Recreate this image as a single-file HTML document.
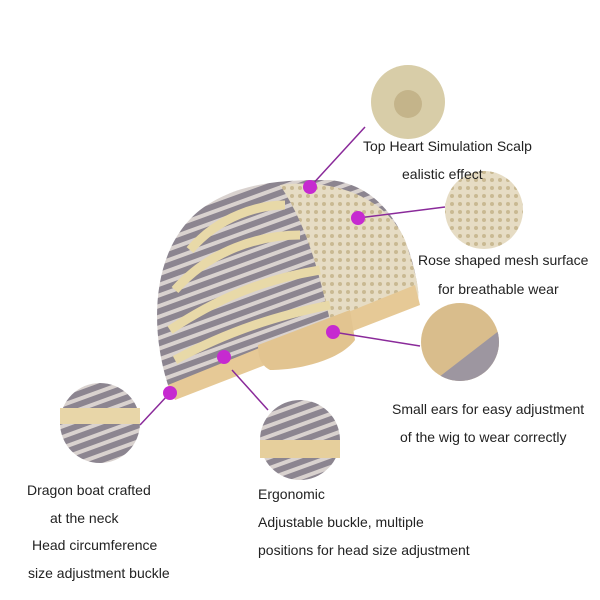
<!DOCTYPE html>
<html><head><style>
body{margin:0;background:#fff;width:600px;height:600px;overflow:hidden;position:relative;font-family:"Liberation Sans",sans-serif}
.t{position:absolute;font-size:14px;color:#222;white-space:nowrap}
</style></head><body>
<svg width="600" height="600" style="position:absolute;left:0;top:0">
<defs>
<pattern id="str" width="10" height="10" patternUnits="userSpaceOnUse" patternTransform="rotate(70)">
<rect width="10" height="10" fill="#8c8590"/><rect width="4" height="10" fill="#d9d2cf"/></pattern>
<pattern id="lace" width="8" height="8" patternUnits="userSpaceOnUse">
<rect width="8" height="8" fill="#e6dcc4"/><circle cx="4" cy="4" r="2" fill="#c9b992"/></pattern>
</defs>
<path d="M168,385 C150,330 150,250 200,210 C240,180 290,180 330,180 C380,185 410,230 418,290 L175,390 Z" fill="url(#str)"/>
<path d="M280,185 C330,178 385,195 405,240 C415,270 420,290 418,300 L330,320 C320,280 310,230 280,185Z" fill="url(#lace)"/>
<path d="M190,250 C220,215 260,205 285,205" stroke="#e8d9a8" stroke-width="9" fill="none"/>
<path d="M175,290 C210,250 260,235 300,235" stroke="#e8d9a8" stroke-width="9" fill="none"/>
<path d="M170,330 C215,300 260,280 320,270" stroke="#e8d9a8" stroke-width="9" fill="none"/>
<path d="M175,360 C230,330 280,315 330,305" stroke="#e8d9a8" stroke-width="9" fill="none"/>
<path d="M168,385 L415,285 L420,305 L175,400 Z" fill="#e6c996"/>
<path d="M258,345 L350,310 L355,340 C340,360 300,370 270,370 C260,365 258,355 258,345Z" fill="#e2c490"/>
<g stroke="#8a2a9a" stroke-width="1.5">
<line x1="310" y1="187" x2="365" y2="127"/>
<line x1="358" y1="218" x2="445" y2="207"/>
<line x1="333" y1="332" x2="420" y2="346"/>
<line x1="232" y1="370" x2="268" y2="410"/>
<line x1="168" y1="395" x2="140" y2="425"/>
</g>
<g fill="#c62ad0">
<circle cx="310" cy="187" r="7"/><circle cx="358" cy="218" r="7"/>
<circle cx="333" cy="332" r="7"/><circle cx="224" cy="357" r="7"/><circle cx="170" cy="393" r="7"/>
</g>
<circle cx="408" cy="102" r="37" fill="#d8cda8"/><circle cx="408" cy="104" r="14" fill="#c4b48a"/>
<circle cx="484" cy="210" r="39" fill="url(#lace)"/>
<clipPath id="c3"><circle cx="460" cy="342" r="39"/></clipPath>
<g clip-path="url(#c3)"><rect x="420" y="300" width="82" height="84" fill="#d9bd8c"/><path d="M430,384 L500,330 L500,384Z" fill="#9d96a0"/></g>
<circle cx="100" cy="423" r="40" fill="url(#str)"/><rect x="60" y="408" width="80" height="16" fill="#e8d6a8"/>
<circle cx="300" cy="440" r="40" fill="url(#str)"/><rect x="260" y="440" width="80" height="18" fill="#e6cf9c"/>
</svg>
<div class="t" style="left:363px;top:138px">Top Heart Simulation Scalp</div>
<div class="t" style="left:402px;top:166px">ealistic effect</div>
<div class="t" style="left:418px;top:252px">Rose shaped mesh surface</div>
<div class="t" style="left:438px;top:281px">for breathable wear</div>
<div class="t" style="left:392px;top:401px">Small ears for easy adjustment</div>
<div class="t" style="left:400px;top:429px">of the wig to wear correctly</div>
<div class="t" style="left:27px;top:482px">Dragon boat crafted</div>
<div class="t" style="left:50px;top:510px">at the neck</div>
<div class="t" style="left:32px;top:537px">Head circumference</div>
<div class="t" style="left:28px;top:565px">size adjustment buckle</div>
<div class="t" style="left:258px;top:486px">Ergonomic</div>
<div class="t" style="left:258px;top:514px">Adjustable buckle, multiple</div>
<div class="t" style="left:258px;top:542px">positions for head size adjustment</div>
</body></html>
